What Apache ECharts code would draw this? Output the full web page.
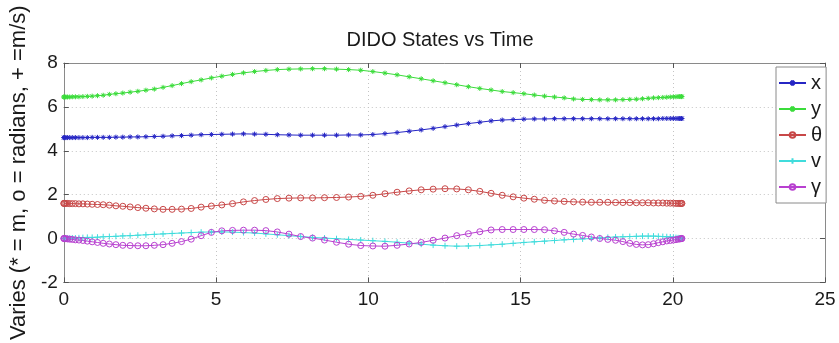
<!DOCTYPE html>
<html>
<head>
<meta charset="utf-8">
<script src="https://cdn.jsdelivr.net/npm/echarts@6/dist/echarts.min.js"></script>
<style>html,body{margin:0;padding:0;background:#fff}#c{width:839px;height:343px}</style>
</head>
<body>
<div id="c"></div>
<script>
// Time nodes
var timeNodes = [0,0.008,0.031,0.070,0.125,0.195,0.280,0.381,0.497,0.627,0.773,0.932,1.106,1.294,1.496,1.711,1.938,2.178,2.432,2.697,2.973,3.260,3.558,3.866,4.184,4.511,4.847,5.190,5.542,5.901,6.266,6.637,7.013,7.395,7.780,8.170,8.562,8.957,9.354,9.752,10.150,10.548,10.946,11.343,11.738,12.130,12.520,12.905,13.287,13.663,14.034,14.399,14.758,15.110,15.453,15.789,16.116,16.434,16.742,17.040,17.327,17.603,17.868,18.122,18.362,18.589,18.804,19.006,19.194,19.368,19.527,19.673,19.803,19.919,20.020,20.105,20.175,20.230,20.269,20.292,20.300];

var xValues = [4.60,4.60,4.60,4.60,4.60,4.60,4.60,4.60,4.60,4.60,4.60,4.61,4.61,4.61,4.61,4.62,4.62,4.63,4.63,4.64,4.65,4.66,4.68,4.69,4.71,4.73,4.74,4.75,4.76,4.77,4.76,4.75,4.73,4.72,4.71,4.71,4.71,4.71,4.72,4.72,4.74,4.78,4.83,4.89,4.95,5.02,5.10,5.17,5.24,5.30,5.36,5.40,5.42,5.44,5.45,5.45,5.46,5.46,5.46,5.46,5.46,5.46,5.46,5.46,5.46,5.46,5.46,5.46,5.46,5.46,5.46,5.47,5.47,5.47,5.47,5.47,5.47,5.47,5.47,5.47,5.47];

var yValues = [6.45,6.45,6.45,6.45,6.45,6.45,6.46,6.46,6.46,6.47,6.48,6.49,6.51,6.53,6.57,6.60,6.63,6.67,6.71,6.76,6.81,6.89,6.97,7.06,7.15,7.23,7.32,7.40,7.48,7.55,7.61,7.66,7.70,7.72,7.73,7.74,7.74,7.72,7.70,7.67,7.61,7.54,7.46,7.37,7.28,7.19,7.10,7.01,6.92,6.84,6.77,6.70,6.65,6.60,6.54,6.49,6.45,6.41,6.36,6.34,6.33,6.32,6.32,6.32,6.33,6.34,6.35,6.37,6.39,6.41,6.42,6.43,6.44,6.45,6.46,6.46,6.47,6.47,6.47,6.47,6.47];

var thetaValues = [1.60,1.60,1.60,1.60,1.60,1.59,1.59,1.59,1.58,1.58,1.57,1.56,1.55,1.54,1.52,1.49,1.47,1.44,1.41,1.38,1.35,1.33,1.33,1.34,1.37,1.43,1.48,1.53,1.59,1.67,1.73,1.78,1.82,1.84,1.85,1.85,1.86,1.87,1.89,1.92,1.97,2.04,2.11,2.17,2.22,2.25,2.27,2.26,2.22,2.15,2.06,1.97,1.90,1.84,1.79,1.74,1.71,1.69,1.67,1.66,1.65,1.65,1.65,1.64,1.64,1.64,1.63,1.63,1.63,1.62,1.62,1.62,1.61,1.61,1.61,1.60,1.60,1.60,1.60,1.60,1.60];

var vValues = [0,0.00,0.00,0.01,0.01,0.01,0.02,0.02,0.03,0.04,0.05,0.05,0.06,0.08,0.09,0.10,0.12,0.13,0.15,0.17,0.19,0.21,0.23,0.25,0.27,0.29,0.30,0.30,0.29,0.27,0.25,0.21,0.17,0.13,0.09,0.05,0.02,-0.01,-0.04,-0.07,-0.10,-0.13,-0.17,-0.21,-0.26,-0.30,-0.33,-0.35,-0.34,-0.32,-0.29,-0.26,-0.22,-0.18,-0.15,-0.12,-0.09,-0.06,-0.04,-0.02,0.00,0.03,0.05,0.07,0.08,0.09,0.10,0.11,0.11,0.11,0.10,0.09,0.08,0.07,0.06,0.04,0.03,0.02,0.01,0.00,0.00];

var gammaValues = [0,0.00,-0.01,-0.01,-0.02,-0.03,-0.04,-0.06,-0.07,-0.09,-0.12,-0.15,-0.18,-0.22,-0.25,-0.28,-0.31,-0.32,-0.33,-0.33,-0.31,-0.28,-0.22,-0.14,-0.03,0.13,0.28,0.35,0.37,0.38,0.38,0.36,0.30,0.20,0.09,0.02,-0.07,-0.17,-0.26,-0.32,-0.34,-0.35,-0.31,-0.25,-0.18,-0.08,0.02,0.13,0.22,0.31,0.39,0.41,0.41,0.41,0.41,0.40,0.35,0.28,0.20,0.14,0.07,0.00,-0.04,-0.08,-0.14,-0.22,-0.27,-0.29,-0.28,-0.24,-0.19,-0.15,-0.11,-0.09,-0.07,-0.05,-0.03,-0.02,-0.01,0.00,0.00];

var seriesNames = ['x','y','\u03b8','v','\u03b3'];
var xTicks = {min:0, max:25, interval:5};
var yTicks = {min:-2, max:8, interval:2};

function pairs(vals){ return timeNodes.map(function(t,i){ return [t, vals[i]]; }); }

var STAR = 'path://M0,-1L0,1M-1,0L1,0M-0.7,-0.7L0.7,0.7M-0.7,0.7L0.7,-0.7';
var PLUS = 'path://M0,-1L0,1M-1,0L1,0';
var FONT = '"Liberation Sans", Arial, sans-serif';

function mk(name, vals, color, symbol, size, stroke){
  return {
    name: name, type: 'line', data: pairs(vals),
    symbol: symbol, symbolSize: size, showSymbol: true,
    lineStyle: {color: color, width: 1},
    itemStyle: {color: stroke ? 'rgba(0,0,0,0)' : color, borderColor: color, borderWidth: 1},
    emphasis: {disabled: true}, z: 3
  };
}

var chart = echarts.init(document.getElementById('c'), null, {renderer:'canvas'});
var axisGray = '#8a8a8a';
chart.setOption({
  animation: false,
  backgroundColor: '#fff',
  textStyle: {fontFamily: FONT},
  title: {
    text: 'DIDO States vs Time', left: 440, top: 30, textAlign: 'center', padding: 0,
    textStyle: {fontSize: 20, fontWeight: 'normal', color: '#1a1a1a', fontFamily: FONT}
  },
  legend: {
    orient: 'vertical', left: 776, top: 67,
    padding: [6, 4, 6, 2], itemGap: 6, itemWidth: 27, itemHeight: 7,
    borderColor: '#8a8a8a', borderWidth: 1, backgroundColor: '#fff',
    textStyle: {fontSize: 20, color: '#1a1a1a', fontFamily: FONT},
    data: seriesNames
  },
  grid: {left: 58, right: 14, top: 63, bottom: 56},
  xAxis: [{
    type: 'value', min: xTicks.min, max: xTicks.max, interval: xTicks.interval,
    axisLine: {onZero: false, lineStyle: {color: axisGray}},
    axisTick: {inside: true, length: 5, lineStyle: {color: '#555'}},
    axisLabel: {fontSize: 19, color: '#1a1a1a', margin: 8, fontFamily: FONT},
    splitLine: {show: true, lineStyle: {color: '#c4c4c4', type: [1, 3]}}
  }, {
    type: 'value', position: 'top', min: xTicks.min, max: xTicks.max, interval: xTicks.interval,
    axisLine: {show: true, onZero: false, lineStyle: {color: axisGray}},
    axisTick: {inside: true, length: 5, lineStyle: {color: '#555'}},
    axisLabel: {show: false}, splitLine: {show: false}
  }],
  yAxis: [{
    type: 'value', min: yTicks.min, max: yTicks.max, interval: yTicks.interval,
    name: 'Varies (* = m, o = radians, + =m/s)', nameLocation: 'middle', nameGap: 24,
    nameTextStyle: {fontSize: 22, color: '#1a1a1a', fontFamily: FONT},
    axisLine: {show: true, onZero: false, lineStyle: {color: axisGray}},
    axisTick: {show: true, inside: true, length: 5, lineStyle: {color: '#555'}},
    axisLabel: {fontSize: 19, color: '#1a1a1a', margin: 6, fontFamily: FONT},
    splitLine: {show: true, lineStyle: {color: '#c4c4c4', type: [1, 3]}}
  }, {
    type: 'value', position: 'right', min: yTicks.min, max: yTicks.max, interval: yTicks.interval,
    axisLine: {show: true, onZero: false, lineStyle: {color: axisGray}},
    axisTick: {show: true, inside: true, length: 5, lineStyle: {color: '#555'}},
    axisLabel: {show: false}, splitLine: {show: false}
  }],
  series: [
    mk(seriesNames[0], xValues, '#2626c4', STAR, 5, false),
    mk(seriesNames[1], yValues, '#3bdc3b', STAR, 5, false),
    mk(seriesNames[2], thetaValues, '#c84848', 'circle', 6, true),
    mk(seriesNames[3], vValues, '#40dcdc', PLUS, 6, false),
    mk(seriesNames[4], gammaValues, '#b840d0', 'circle', 6, true)
  ]
});
</script>
</body>
</html>
